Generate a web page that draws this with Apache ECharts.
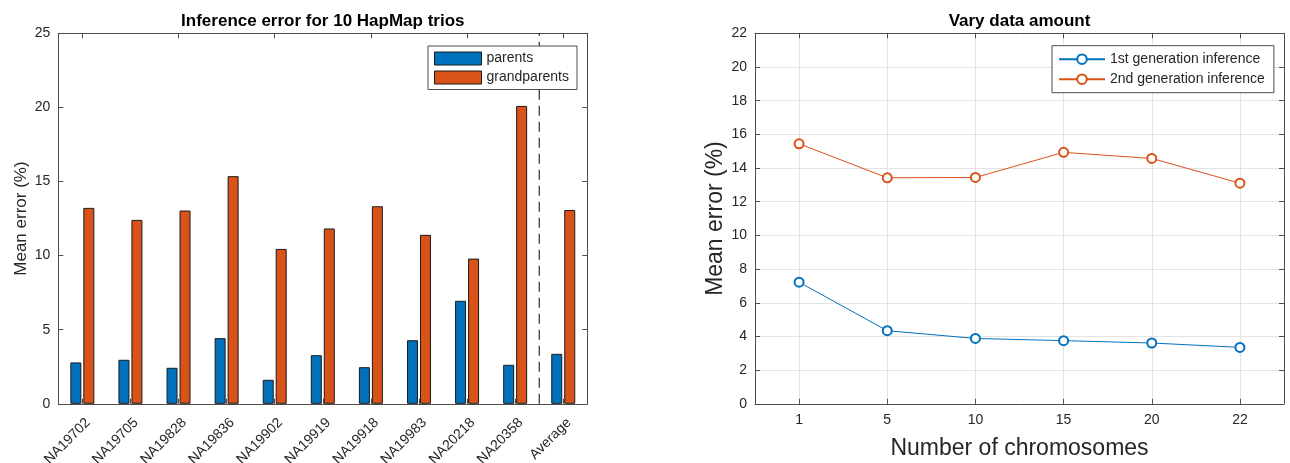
<!DOCTYPE html>
<html><head><meta charset="utf-8">
<script src="https://cdn.jsdelivr.net/npm/echarts@6/dist/echarts.min.js"></script>
<style>html,body{margin:0;padding:0;background:#fff}#c{width:1290px;height:463px}</style>
</head><body><div id="c"></div>
<script>
// ---- data ----
const trios = ['NA19702','NA19705','NA19828','NA19836','NA19902','NA19919','NA19918','NA19983','NA20218','NA20358','Average'];
const parents = [2.79, 2.97, 2.43, 4.43, 1.62, 3.28, 2.47, 4.29, 6.95, 2.63, 3.37];
const grandparents = [13.22, 12.41, 13.04, 15.36, 10.45, 11.83, 13.33, 11.40, 9.80, 20.10, 13.08];
const separatorPos = 9.5; // between NA20358 and Average (category index space)
const leftTicks = {min: 0, max: 25, step: 5};

const chromosomes = ['1', '5', '10', '15', '20', '22'];
const gen1 = [7.22, 4.34, 3.88, 3.75, 3.61, 3.35];
const gen2 = [15.44, 13.42, 13.44, 14.93, 14.57, 13.10];
const rightTicks = {min: 0, max: 22, step: 2};

// ---- style ----
const FONT = '"Liberation Sans", Arial, Helvetica, sans-serif';
const BLUE = '#0072BD', ORANGE = '#D95319';
const AX = '#4d4d4d', TXT = '#262626', GRID = '#e3e3e3';
const line = {show: true, onZero: false, lineStyle: {color: AX, width: 1}};
const tick = {show: true, inside: true, length: 5, lineStyle: {color: AX, width: 1}};
const noLabel = {show: false};

const chart = echarts.init(document.getElementById('c'), null, {renderer: 'canvas'});
chart.setOption({
  animation: false,
  backgroundColor: '#fff',
  textStyle: {fontFamily: FONT},
  graphic: [
    {type: 'text', x: 322.8, y: 13, style: {text: 'Inference error for 10 HapMap trios', align: 'center', verticalAlign: 'top', font: 'bold 17px ' + FONT, fill: '#000'}},
    {type: 'text', x: 1019.5, y: 13, style: {text: 'Vary data amount', align: 'center', verticalAlign: 'top', font: 'bold 17px ' + FONT, fill: '#000'}}
  ],
  grid: [
    {left: 58.3, top: 33.3, width: 529, height: 370.5, containLabel: false, outerBoundsMode: 'none'},
    {left: 755, top: 33.3, width: 529, height: 370.5, containLabel: false, outerBoundsMode: 'none'}
  ],
  legend: [
    {
      data: ['parents', 'grandparents'], orient: 'vertical', left: 428, top: 46,
      icon: 'rect', itemWidth: 47, itemHeight: 13, itemGap: 5,
      itemStyle: {borderWidth: 1, borderColor: '#1a1a1a'},
      padding: [5.5, 8, 5, 6], borderColor: AX, borderWidth: 1, backgroundColor: '#fff',
      textStyle: {fontSize: 14, color: TXT, fontFamily: FONT}
    },
    {
      data: ['1st generation inference', '2nd generation inference'], orient: 'vertical', left: 1052, top: 45.7,
      itemWidth: 46, itemHeight: 12, itemGap: 6,
      padding: [6.5, 9, 6.5, 6], borderColor: AX, borderWidth: 1, backgroundColor: '#fff',
      textStyle: {fontSize: 14, color: TXT, fontFamily: FONT}
    }
  ],
  xAxis: [
    {type: 'category', gridIndex: 0, data: trios, position: 'bottom', axisLine: line,
      axisTick: Object.assign({alignWithLabel: true}, tick),
      axisLabel: {rotate: 45, interval: 0, margin: 11, verticalAlign: 'top', lineHeight: 16, fontSize: 14, color: TXT, fontFamily: FONT}},
    {type: 'category', gridIndex: 0, data: trios, position: 'top', axisLine: line,
      axisTick: Object.assign({alignWithLabel: true}, tick), axisLabel: noLabel},
    {type: 'value', gridIndex: 0, min: -0.5, max: trios.length - 0.5, show: false},
    {type: 'category', gridIndex: 1, data: chromosomes, position: 'bottom', axisLine: line,
      axisTick: Object.assign({alignWithLabel: true}, tick),
      axisLabel: {margin: 9, fontSize: 14, color: TXT, fontFamily: FONT},
      splitLine: {show: true, alignWithLabel: true, lineStyle: {color: GRID, width: 1}},
      name: 'Number of chromosomes', nameLocation: 'middle', nameGap: 33,
      nameTextStyle: {fontSize: 23, color: TXT, fontFamily: FONT}},
    {type: 'category', gridIndex: 1, data: chromosomes, position: 'top', axisLine: line,
      axisTick: Object.assign({alignWithLabel: true}, tick), axisLabel: noLabel}
  ],
  yAxis: [
    {type: 'value', gridIndex: 0, min: leftTicks.min, max: leftTicks.max, interval: leftTicks.step, position: 'left',
      axisLine: line, axisTick: tick, splitLine: {show: false},
      axisLabel: {margin: 8, fontSize: 14, color: TXT, fontFamily: FONT},
      name: 'Mean error (%)', nameLocation: 'middle', nameGap: 28,
      nameTextStyle: {fontSize: 17, color: TXT, fontFamily: FONT}},
    {type: 'value', gridIndex: 0, min: leftTicks.min, max: leftTicks.max, interval: leftTicks.step, position: 'right',
      axisLine: line, axisTick: tick, splitLine: {show: false}, axisLabel: noLabel},
    {type: 'value', gridIndex: 1, min: rightTicks.min, max: rightTicks.max, interval: rightTicks.step, position: 'left',
      axisLine: line, axisTick: tick, splitLine: {show: true, lineStyle: {color: GRID, width: 1}},
      axisLabel: {margin: 8, fontSize: 14, color: TXT, fontFamily: FONT},
      name: 'Mean error (%)', nameLocation: 'middle', nameGap: 28,
      nameTextStyle: {fontSize: 23, color: TXT, fontFamily: FONT}},
    {type: 'value', gridIndex: 1, min: rightTicks.min, max: rightTicks.max, interval: rightTicks.step, position: 'right',
      axisLine: line, axisTick: tick, splitLine: {show: false}, axisLabel: noLabel}
  ],
  series: [
    {name: 'parents', type: 'bar', xAxisIndex: 0, yAxisIndex: 0, data: parents, barWidth: 11, barGap: '18%',
      itemStyle: {color: BLUE, borderColor: '#1a1a1a', borderWidth: 1}},
    {name: 'grandparents', type: 'bar', xAxisIndex: 0, yAxisIndex: 0, data: grandparents, barWidth: 11, barGap: '18%',
      itemStyle: {color: ORANGE, borderColor: '#1a1a1a', borderWidth: 1}},
    {name: 'separator', type: 'line', xAxisIndex: 2, yAxisIndex: 0, silent: true, symbol: 'none',
      data: [[separatorPos, leftTicks.min], [separatorPos, leftTicks.max]],
      lineStyle: {color: '#000', width: 1, type: [10, 6]}},
    {name: '1st generation inference', type: 'line', xAxisIndex: 3, yAxisIndex: 2, data: gen1,
      symbol: 'emptyCircle', symbolSize: 9, lineStyle: {color: BLUE, width: 1},
      itemStyle: {color: BLUE, borderWidth: 1.5}},
    {name: '2nd generation inference', type: 'line', xAxisIndex: 3, yAxisIndex: 2, data: gen2,
      symbol: 'emptyCircle', symbolSize: 9, lineStyle: {color: ORANGE, width: 1},
      itemStyle: {color: ORANGE, borderWidth: 1.5}}
  ]
});
</script></body></html>
